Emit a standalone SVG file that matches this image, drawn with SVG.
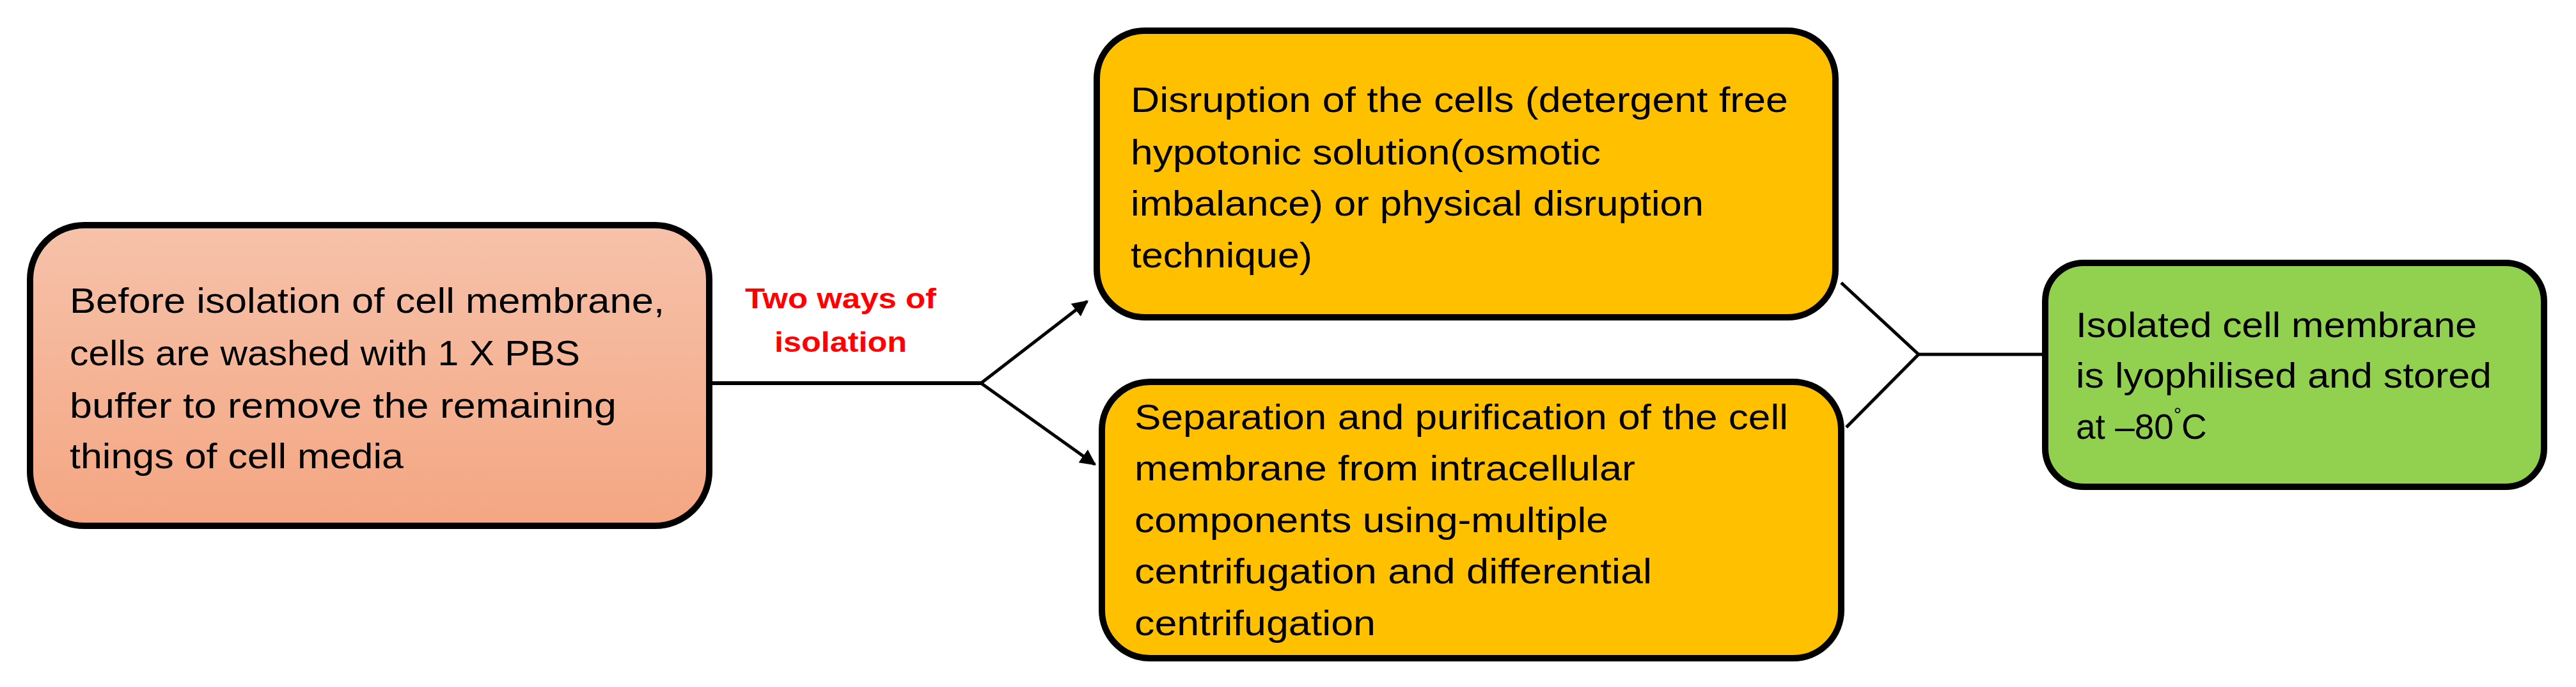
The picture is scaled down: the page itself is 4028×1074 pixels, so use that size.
<svg xmlns="http://www.w3.org/2000/svg" width="4028" height="1074" viewBox="0 0 4028 1074">
<style>
.box{stroke:#000;stroke-width:10}
.t{font-family:"Liberation Sans",Arial,sans-serif;font-size:55px;fill:#000}
.lbl{font-family:"Liberation Sans",Arial,sans-serif;font-size:44px;font-weight:bold;fill:#FF0000}
.c{fill:none;stroke:#000;stroke-width:5}
</style>
<defs>
<linearGradient id="g1" x1="0" y1="0" x2="0" y2="1"><stop offset="0" stop-color="#F6C2AA"/><stop offset="1" stop-color="#F4A682"/></linearGradient>
<marker id="ah" viewBox="0 0 10 10" refX="9" refY="5" markerWidth="5" markerHeight="5" orient="auto" markerUnits="strokeWidth"><path d="M0,0 L10,5 L0,10 z" fill="#000"/></marker>
</defs>
<g id="connectors">
<path class="c" d="M1110,599 H1534" style="stroke-width:6"/>
<path class="c" d="M1534,599 L1700,471" marker-end="url(#ah)"/>
<path class="c" d="M1534,599 L1712,726" marker-end="url(#ah)"/>
<path class="c" d="M2879,442 L3000,554 L2887,668"/>
<path class="c" d="M3000,554 H3196"/>
</g>
<g id="n1">
<rect class="box" x="47" y="352" width="1062" height="470" rx="85" fill="url(#g1)"/>
<text class="t" x="109" y="489" textLength="930" lengthAdjust="spacingAndGlyphs">Before isolation of cell membrane,</text>
<text class="t" x="109" y="571" textLength="798" lengthAdjust="spacingAndGlyphs">cells are washed with 1 X PBS</text>
<text class="t" x="109" y="653" textLength="855" lengthAdjust="spacingAndGlyphs">buffer to remove the remaining</text>
<text class="t" x="109" y="732" textLength="522" lengthAdjust="spacingAndGlyphs">things of cell media</text>
</g>
<g id="label">
<text class="lbl" x="1165" y="482" textLength="299" lengthAdjust="spacingAndGlyphs">Two ways of</text>
<text class="lbl" x="1211" y="550" textLength="207" lengthAdjust="spacingAndGlyphs">isolation</text>
</g>
<g id="n2">
<rect class="box" x="1715" y="48" width="1155" height="448" rx="75" fill="#FFC000"/>
<text class="t" x="1768" y="175" textLength="1028" lengthAdjust="spacingAndGlyphs">Disruption of the cells (detergent free</text>
<text class="t" x="1768" y="257" textLength="735" lengthAdjust="spacingAndGlyphs">hypotonic solution(osmotic</text>
<text class="t" x="1768" y="337" textLength="896" lengthAdjust="spacingAndGlyphs">imbalance) or physical disruption</text>
<text class="t" x="1768" y="418" textLength="284" lengthAdjust="spacingAndGlyphs">technique)</text>
</g>
<g id="n3">
<rect class="box" x="1723" y="597" width="1156" height="432" rx="75" fill="#FFC000"/>
<text class="t" x="1774" y="671" textLength="1022" lengthAdjust="spacingAndGlyphs">Separation and purification of the cell</text>
<text class="t" x="1774" y="751" textLength="783" lengthAdjust="spacingAndGlyphs">membrane from intracellular</text>
<text class="t" x="1774" y="832" textLength="741" lengthAdjust="spacingAndGlyphs">components using-multiple</text>
<text class="t" x="1774" y="912" textLength="809" lengthAdjust="spacingAndGlyphs">centrifugation and differential</text>
<text class="t" x="1774" y="993" textLength="377" lengthAdjust="spacingAndGlyphs">centrifugation</text>
</g>
<g id="n4">
<rect class="box" x="3198" y="411" width="780" height="350" rx="60" fill="#92D050"/>
<text class="t" x="3246" y="527" textLength="627" lengthAdjust="spacingAndGlyphs">Isolated cell membrane</text>
<text class="t" x="3246" y="606" textLength="650" lengthAdjust="spacingAndGlyphs">is lyophilised and stored</text>
<text class="t" x="3246" y="686">at –80<tspan font-size="30" dy="-28">°</tspan><tspan dy="28">C</tspan></text>
</g>
</svg>
